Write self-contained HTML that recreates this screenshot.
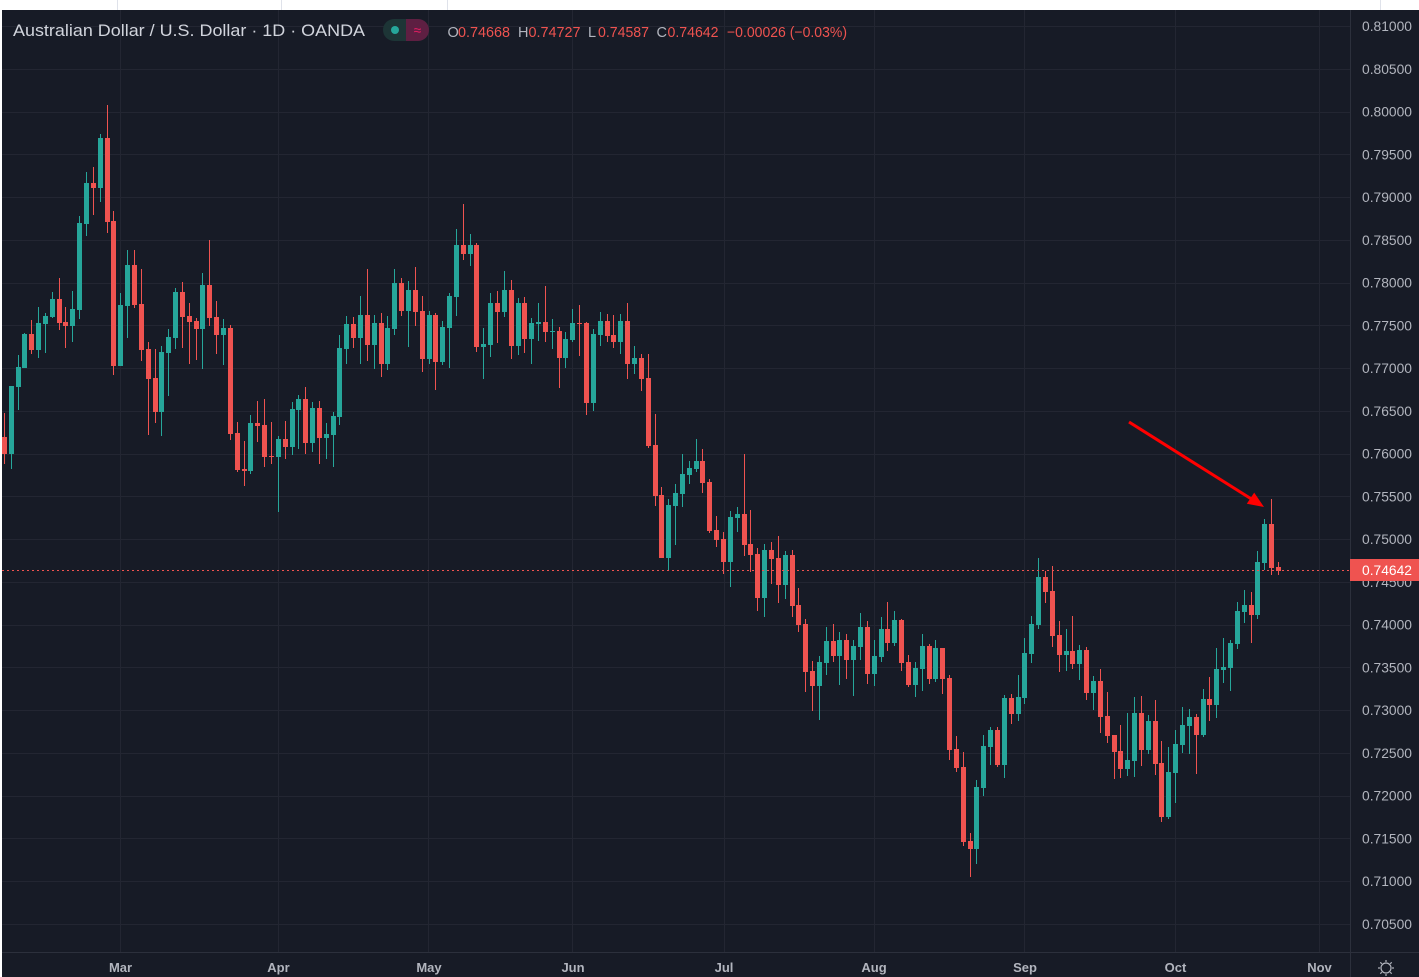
<!DOCTYPE html>
<html><head><meta charset="utf-8"><title>AUD/USD 1D chart</title><style>
html,body{margin:0;padding:0;background:#fff;width:1419px;height:977px;overflow:hidden}
svg{display:block}
text{font-family:"Liberation Sans","DejaVu Sans",sans-serif}
</style></head><body>
<svg id="s" width="1419" height="977" viewBox="0 0 1419 977" xmlns="http://www.w3.org/2000/svg">
<defs><clipPath id="cp"><rect x="2" y="10" width="1348" height="942"/></clipPath></defs>
<rect x="0" y="0" width="1419" height="977" fill="#ffffff"/>
<g stroke="#dfe2ea" stroke-width="1">
<line x1="117.5" y1="0" x2="117.5" y2="10"/><line x1="281.5" y1="0" x2="281.5" y2="10"/><line x1="447.5" y1="0" x2="447.5" y2="10"/><line x1="1380.5" y1="0" x2="1380.5" y2="10"/>
</g>
<rect x="2" y="10" width="1417" height="967" fill="#171b26"/>
<g id="grid" stroke="#232632" stroke-width="1"></g>
<g id="candles" clip-path="url(#cp)"></g>
<line x1="2" y1="570.5" x2="1350" y2="570.5" stroke="#ef5350" stroke-width="1" stroke-dasharray="2,3"/>
<line x1="1350.5" y1="10" x2="1350.5" y2="977" stroke="#2c303c" stroke-width="1"/>
<line x1="2" y1="952.5" x2="1419" y2="952.5" stroke="#2c303c" stroke-width="1"/>
<!-- arrow -->
<line x1="1129" y1="422" x2="1253" y2="500" stroke="#ff0000" stroke-width="3"/>
<polygon points="1264,507 1246.8,503.8 1254.2,492.6" fill="#ff0000"/>
<!-- header -->
<text x="13" y="36" font-size="17" fill="#d1d4dc" textLength="352" lengthAdjust="spacingAndGlyphs">Australian Dollar / U.S. Dollar · 1D · OANDA</text>
<rect x="383" y="19" width="46" height="22" rx="11" fill="#1d3536"/>
<path d="M406 19 H418 A11 11 0 0 1 418 41 H406 Z" fill="#5e1f42"/>
<circle cx="395" cy="30" r="4" fill="#26a69a"/>
<text x="417.5" y="35" font-size="14" fill="#e91e63" text-anchor="middle">≈</text>
<g font-size="14.5">
<text x="447.5" y="37" fill="#b2b5be">O</text>
<text x="458" y="37" fill="#ef5350" textLength="52" lengthAdjust="spacingAndGlyphs">0.74668</text>
<text x="518" y="37" fill="#b2b5be">H</text>
<text x="528.5" y="37" fill="#ef5350" textLength="52" lengthAdjust="spacingAndGlyphs">0.74727</text>
<text x="588" y="37" fill="#b2b5be">L</text>
<text x="598" y="37" fill="#ef5350" textLength="51" lengthAdjust="spacingAndGlyphs">0.74587</text>
<text x="656.5" y="37" fill="#b2b5be">C</text>
<text x="667.5" y="37" fill="#ef5350" textLength="51" lengthAdjust="spacingAndGlyphs">0.74642</text>
<text x="727" y="37" fill="#ef5350" textLength="120" lengthAdjust="spacingAndGlyphs">−0.00026 (−0.03%)</text>
</g>
<!-- price axis labels -->
<g font-size="13.5" fill="#b2b5be">
<text x="1362" y="31" textLength="50" lengthAdjust="spacingAndGlyphs">0.81000</text>
<text x="1362" y="73.8" textLength="50" lengthAdjust="spacingAndGlyphs">0.80500</text>
<text x="1362" y="116.5" textLength="50" lengthAdjust="spacingAndGlyphs">0.80000</text>
<text x="1362" y="159.3" textLength="50" lengthAdjust="spacingAndGlyphs">0.79500</text>
<text x="1362" y="202" textLength="50" lengthAdjust="spacingAndGlyphs">0.79000</text>
<text x="1362" y="244.8" textLength="50" lengthAdjust="spacingAndGlyphs">0.78500</text>
<text x="1362" y="287.6" textLength="50" lengthAdjust="spacingAndGlyphs">0.78000</text>
<text x="1362" y="330.3" textLength="50" lengthAdjust="spacingAndGlyphs">0.77500</text>
<text x="1362" y="373.1" textLength="50" lengthAdjust="spacingAndGlyphs">0.77000</text>
<text x="1362" y="415.8" textLength="50" lengthAdjust="spacingAndGlyphs">0.76500</text>
<text x="1362" y="458.6" textLength="50" lengthAdjust="spacingAndGlyphs">0.76000</text>
<text x="1362" y="501.4" textLength="50" lengthAdjust="spacingAndGlyphs">0.75500</text>
<text x="1362" y="544.1" textLength="50" lengthAdjust="spacingAndGlyphs">0.75000</text>
<text x="1362" y="586.9" textLength="50" lengthAdjust="spacingAndGlyphs">0.74500</text>
<text x="1362" y="629.6" textLength="50" lengthAdjust="spacingAndGlyphs">0.74000</text>
<text x="1362" y="672.4" textLength="50" lengthAdjust="spacingAndGlyphs">0.73500</text>
<text x="1362" y="715.2" textLength="50" lengthAdjust="spacingAndGlyphs">0.73000</text>
<text x="1362" y="757.9" textLength="50" lengthAdjust="spacingAndGlyphs">0.72500</text>
<text x="1362" y="800.7" textLength="50" lengthAdjust="spacingAndGlyphs">0.72000</text>
<text x="1362" y="843.4" textLength="50" lengthAdjust="spacingAndGlyphs">0.71500</text>
<text x="1362" y="886.2" textLength="50" lengthAdjust="spacingAndGlyphs">0.71000</text>
<text x="1362" y="929" textLength="50" lengthAdjust="spacingAndGlyphs">0.70500</text>
</g>
<rect x="1350" y="559" width="69" height="22" fill="#ef5350"/>
<text x="1362" y="575" font-size="13.5" fill="#ffffff" textLength="50" lengthAdjust="spacingAndGlyphs">0.74642</text>
<!-- time axis -->
<g font-size="13" font-weight="bold" fill="#b2b5be" text-anchor="middle">
<text x="120.5" y="972">Mar</text>
<text x="278.5" y="972">Apr</text>
<text x="429" y="972">May</text>
<text x="573" y="972">Jun</text>
<text x="724" y="972">Jul</text>
<text x="874" y="972">Aug</text>
<text x="1025" y="972">Sep</text>
<text x="1175.5" y="972">Oct</text>
<text x="1319.5" y="972">Nov</text>
</g>
<!-- gear -->
<g stroke="#b2b5be" stroke-width="1.2" fill="none">
<circle cx="1386" cy="968" r="5"/>
<line x1="1386" y1="960" x2="1386" y2="962"/><line x1="1386" y1="974" x2="1386" y2="976"/>
<line x1="1378" y1="968" x2="1380" y2="968"/><line x1="1392" y1="968" x2="1394" y2="968"/>
<line x1="1380.3" y1="962.3" x2="1381.8" y2="963.8"/><line x1="1390.2" y1="972.2" x2="1391.7" y2="973.7"/>
<line x1="1391.7" y1="962.3" x2="1390.2" y2="963.8"/><line x1="1381.8" y1="972.2" x2="1380.3" y2="973.7"/>
</g>
</svg>
<script>
(function(){
var NS="http://www.w3.org/2000/svg";
var g=document.getElementById("grid");
function ln(x1,y1,x2,y2){var l=document.createElementNS(NS,"line");l.setAttribute("x1",x1);l.setAttribute("y1",y1);l.setAttribute("x2",x2);l.setAttribute("y2",y2);g.appendChild(l);}
for(var k=0;k<22;k++){var y=Math.round(26+42.76*k)+0.5;ln(2,y,1350,y);}
[120.5,278.5,428.5,572.5,724.5,874.5,1024.5,1175.5,1319.5].forEach(function(x){ln(x,10,x,952);});
var D="r 413 464 437 454|g 386 469 386 454|g 355 410 367 387|g 333 368 334 368|r 320 354 334 350|g 307 358 323 350|g 313 353 316 324|g 292 318 299 317|r 278 330 299 323|r 307 348 322 326|g 291 342 309 326|g 216 319 223 310|g 172 236 183 224|r 167 215 183 188|g 134 202 138 188|r 105 233 138 222|r 211 375 221 366|g 293 366 305 366|g 250 338 265 306|r 250 308 265 305|r 269 361 304 350|r 342 435 349 379|r 349 423 378 412|g 346 436 352 412|g 329 396 337 353|g 288 349 292 338|r 282 348 292 317|r 303 364 316 322|r 318 360 321 329|g 273 369 285 329|r 240 326 285 318|r 301 354 317 335|g 319 365 328 335|r 325 440 328 434|r 422 472 433 470|r 441 486 469 471|g 415 474 423 471|r 401 442 423 426|r 399 467 425 457|r 422 464 456 457|g 436 512 439 457|r 421 459 439 447|g 402 455 409 447|g 395 449 399 410|r 387 454 399 443|g 402 452 408 443|r 401 464 408 438|g 423 459 434 438|g 412 467 416 435|g 335 425 348 417|g 316 364 324 349|r 317 348 324 338|g 296 364 315 338|r 269 361 315 345|g 315 369 323 345|r 313 377 323 364|g 316 370 328 364|g 269 335 283 329|r 278 316 283 311|g 281 347 290 311|r 267 326 290 312|r 296 372 311 359|g 311 364 315 359|r 313 390 315 362|g 321 365 327 362|g 293 368 296 328|g 229 316 245 297|r 204 260 245 254|g 234 266 245 254|r 243 352 245 347|g 328 379 344 347|g 293 357 303 345|r 291 343 303 312|g 271 317 290 312|r 280 359 290 346|g 298 355 303 346|r 297 353 303 339|g 318 364 323 339|g 303 341 322 324|r 286 342 322 332|g 319 349 331 332|r 327 388 331 358|g 332 368 339 358|g 309 342 323 340|r 305 356 323 324|r 322 415 323 403|g 329 411 334 403|g 312 346 321 335|r 314 342 321 336|r 315 348 335 342|g 314 354 321 342|r 303 379 321 364|g 346 374 358 364|r 354 391 358 379|r 354 448 378 446|r 414 506 445 496|r 487 558 495 558|g 499 570 505 558|g 484 545 493 506|g 454 507 474 494|g 461 484 468 475|g 439 472 461 469|r 449 493 461 483|r 479 533 482 531|r 516 547 530 540|r 532 574 539 562|g 511 587 517 562|g 507 532 514 518|r 454 556 514 545|r 510 572 544 555|r 548 611 554 598|g 544 617 550 598|r 542 584 550 559|r 536 603 558 585|g 551 599 555 585|r 550 617 555 606|r 588 632 605 625|r 619 692 624 672|r 661 711 671 686|g 656 720 662 686|g 627 675 641 663|r 624 662 641 656|g 632 685 640 656|r 634 679 640 660|g 640 696 646 660|g 613 660 627 647|r 621 684 627 674|g 640 686 656 674|g 617 662 629 657|r 602 651 629 643|g 611 646 620 643|r 619 671 620 663|r 655 687 662 685|g 662 697 668 685|g 634 691 646 669|r 644 684 646 679|g 640 682 648 679|r 648 694 648 679|r 675 760 678 750|r 736 772 749 768|r 752 846 767 842|r 833 877 841 849|g 780 864 787 849|g 735 796 746 788|g 727 765 730 747|r 727 767 730 765|g 695 778 698 765|r 694 724 698 714|g 675 721 697 714|g 638 704 653 698|g 616 663 624 654|g 558 629 577 625|r 571 603 577 592|r 566 647 591 636|r 621 672 635 655|g 629 671 651 655|r 616 669 651 664|g 645 680 650 664|r 647 700 650 693|g 676 710 681 693|r 669 733 681 717|r 692 743 716 736|r 735 779 735 752|r 725 778 751 769|g 713 776 760 769|g 697 777 713 761|r 696 766 713 750|g 715 754 721 750|r 700 775 721 764|r 741 822 763 817|g 747 819 772 817|g 730 803 744 773|g 707 753 725 745|g 709 754 717 726|r 714 774 717 735|g 689 737 699 735|r 677 721 699 705|g 648 718 669 705|g 638 683 667 670|g 640 691 643 668|g 602 649 611 644|g 590 623 605 612|r 592 643 605 615|g 551 619 562 615|g 519 570 524 563|r 499 575 524 568|r 562 575 567 571";
var c=document.getElementById("candles");
var rows=D.split("|");
var pg="",pr="";
for(var i=0;i<rows.length;i++){
 var a=rows[i].split(" ");
 var wt=+a[1],wb=+a[2],bt=+a[3],bb=+a[4];
 if(bb-bt<1)bb=bt+1;
 var cx=Math.round(4.3+6.85*i-0.5);
 var s="M"+cx+" "+wt+"h1V"+wb+"h-1Z M"+(cx-2)+" "+bt+"h5V"+bb+"h-5Z ";
 if(a[0]=="g")pg+=s;else pr+=s;
}
function P(d,f){var p=document.createElementNS(NS,"path");p.setAttribute("d",d);p.setAttribute("fill",f);c.appendChild(p);}
P(pg,"#26a69a");P(pr,"#ef5350");
})();
</script>
</body></html>
